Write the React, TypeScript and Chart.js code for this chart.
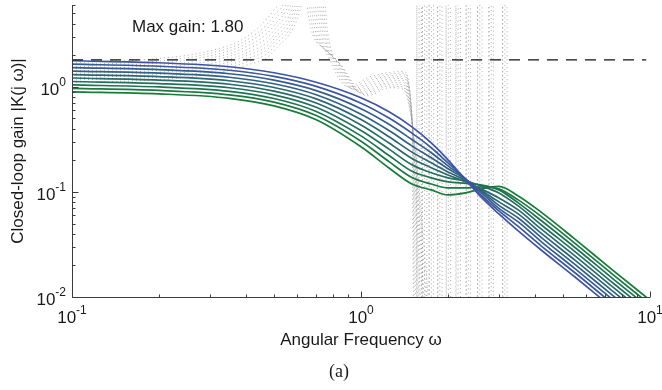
import React, { useEffect, useRef } from "react";
import { Chart, registerables } from "chart.js";

Chart.register(...registerables);

// ---------- data ----------
const omega = [0.1, 0.2, 0.35, 0.5, 0.7, 1.0, 1.25, 1.5, 1.75, 2.0, 2.3, 2.6, 3.0, 3.5, 4.2, 5.5, 7.5, 10];

const gain1 = [1.77, 1.693, 1.551, 1.359, 1.104, 0.786, 0.578, 0.416, 0.293, 0.202, 0.13, 0.0896, 0.0617, 0.0425, 0.028, 0.0155, 0.00769, 0.00407];
const gain2 = [1.641, 1.569, 1.436, 1.254, 1.008, 0.698, 0.504, 0.362, 0.263, 0.189, 0.133, 0.0936, 0.0659, 0.0469, 0.0307, 0.017, 0.00843, 0.00446];
const gain3 = [1.521, 1.455, 1.33, 1.157, 0.92, 0.619, 0.44, 0.315, 0.236, 0.177, 0.133, 0.0989, 0.0697, 0.0518, 0.0337, 0.0186, 0.00925, 0.00489];
const gain4 = [1.41, 1.349, 1.232, 1.068, 0.84, 0.549, 0.384, 0.274, 0.211, 0.166, 0.1315, 0.1022, 0.0744, 0.0565, 0.0369, 0.0204, 0.01014, 0.00537];
const gain5 = [1.307, 1.25, 1.141, 0.985, 0.767, 0.488, 0.335, 0.239, 0.189, 0.155, 0.1287, 0.1045, 0.0803, 0.0617, 0.0405, 0.0224, 0.01112, 0.00588];
const gain6 = [1.212, 1.159, 1.057, 0.909, 0.7, 0.433, 0.292, 0.208, 0.17, 0.145, 0.1246, 0.1068, 0.0877, 0.0674, 0.0444, 0.0246, 0.01219, 0.00645];
const gain7 = [1.123, 1.074, 0.979, 0.839, 0.639, 0.384, 0.255, 0.181, 0.152, 0.1359, 0.1273, 0.114, 0.0978, 0.0736, 0.0487, 0.027, 0.01337, 0.00708];
const gain8 = [1.041, 0.996, 0.906, 0.774, 0.583, 0.341, 0.222, 0.157, 0.136, 0.1246, 0.1205, 0.1166, 0.1045, 0.0786, 0.0534, 0.0296, 0.01466, 0.00776];
const gain9 = [0.965, 0.923, 0.839, 0.714, 0.532, 0.303, 0.194, 0.137, 0.119, 0.1091, 0.1091, 0.1116, 0.1068, 0.0839, 0.0585, 0.0324, 0.01607, 0.00851];
const gain10 = [0.895, 0.856, 0.777, 0.659, 0.486, 0.269, 0.169, 0.119, 0.1045, 0.0936, 0.0978, 0.1068, 0.1128, 0.0916, 0.0642, 0.0355, 0.01762, 0.00933];
const closedLoopGains = [gain1, gain2, gain3, gain4, gain5, gain6, gain7, gain8, gain9, gain10];

// dotted grey curves (frequency / gain pairs); values above 6 or below 0.01 run off the axes
const greyW1 = [0.1, 0.2, 0.3, 0.4, 0.5, 0.552, 0.6, 0.66, 0.75, 0.9, 1.08, 1.4, 1.5, 1.53, 1.558, 1.56, 1.565, 1.588, 1.59, 1.616, 1.618];
const greyG1 = [1.7, 1.86, 2.2, 2.97, 5.4, 9, 60, 4.5, 2.2, 1.0, 1.25, 1.4, 0.55, 0.001, 0.001, 60, 0.001, 0.001, 60, 60, 0.001];
const greyW2 = [0.1, 0.2, 0.3, 0.4, 0.5, 0.562, 0.611, 0.672, 0.764, 0.917, 1.1, 1.4, 1.5, 1.55, 1.628, 1.63, 1.635, 1.659, 1.661, 1.689, 1.69];
const greyG2 = [1.62, 1.76, 2.08, 2.76, 4.76, 9, 60, 4.35, 2.12, 0.98, 1.22, 1.35, 0.54, 0.001, 0.001, 60, 0.001, 0.001, 60, 60, 0.001];
const greyW3 = [0.1, 0.2, 0.3, 0.4, 0.5, 0.572, 0.622, 0.684, 0.778, 0.933, 1.12, 1.4, 1.5, 1.58, 1.718, 1.72, 1.725, 1.751, 1.753, 1.782, 1.784];
const greyG3 = [1.55, 1.68, 1.97, 2.58, 4.27, 9, 60, 4.2, 2.04, 0.96, 1.19, 1.3, 0.53, 0.001, 0.001, 60, 0.001, 0.001, 60, 60, 0.001];
const greyW4 = [0.1, 0.2, 0.3, 0.4, 0.5, 0.582, 0.633, 0.696, 0.791, 0.95, 1.139, 1.4, 1.5, 1.62, 1.838, 1.84, 1.846, 1.873, 1.875, 1.906, 1.908];
const greyG4 = [1.48, 1.6, 1.86, 2.4, 3.84, 9, 60, 4.05, 1.96, 0.94, 1.16, 1.25, 0.52, 0.001, 0.001, 60, 0.001, 0.001, 60, 60, 0.001];
const greyW5 = [0.1, 0.2, 0.3, 0.4, 0.5, 0.592, 0.644, 0.708, 0.805, 0.966, 1.159, 1.4, 1.5, 1.66, 1.968, 1.97, 1.976, 2.005, 2.007, 2.041, 2.043];
const greyG5 = [1.41, 1.52, 1.76, 2.24, 3.47, 9, 60, 3.9, 1.88, 0.92, 1.13, 1.2, 0.51, 0.001, 0.001, 60, 0.001, 0.001, 60, 60, 0.001];
const greyW6 = [0.1, 0.2, 0.3, 0.4, 0.5, 0.603, 0.655, 0.721, 0.819, 0.983, 1.179, 1.4, 1.5, 1.7, 2.128, 2.13, 2.136, 2.168, 2.17, 2.207, 2.209];
const greyG6 = [1.34, 1.44, 1.66, 2.09, 3.13, 9, 60, 3.75, 1.8, 0.9, 1.1, 1.15, 0.5, 0.001, 0.001, 60, 0.001, 0.001, 60, 60, 0.001];
const greyW7 = [0.1, 0.2, 0.3, 0.4, 0.5, 0.613, 0.666, 0.733, 0.833, 0.999, 1.199, 1.4, 1.5, 1.75, 2.308, 2.31, 2.317, 2.352, 2.354, 2.393, 2.395];
const greyG7 = [1.28, 1.37, 1.57, 1.96, 2.86, 9, 60, 3.6, 1.72, 0.88, 1.07, 1.1, 0.49, 0.001, 0.001, 60, 0.001, 0.001, 60, 60, 0.001];
const greyW8 = [0.1, 0.2, 0.3, 0.4, 0.5, 0.623, 0.677, 0.745, 0.846, 1.016, 1.219, 1.4, 1.5, 1.8, 2.527, 2.53, 2.538, 2.576, 2.578, 2.621, 2.623];
const greyG8 = [1.22, 1.31, 1.48, 1.83, 2.63, 9, 60, 3.45, 1.64, 0.86, 1.04, 1.05, 0.48, 0.001, 0.001, 60, 0.001, 0.001, 60, 60, 0.001];
const greyW9 = [0.1, 0.2, 0.3, 0.4, 0.5, 0.633, 0.688, 0.757, 0.86, 1.032, 1.238, 1.4, 1.5, 1.86, 2.767, 2.77, 2.778, 2.82, 2.823, 2.87, 2.872];
const greyG9 = [1.16, 1.24, 1.4, 1.71, 2.41, 9, 60, 3.3, 1.56, 0.84, 1.01, 1.0, 0.47, 0.001, 0.001, 60, 0.001, 0.001, 60, 60, 0.001];
const greyW10 = [0.1, 0.2, 0.3, 0.4, 0.5, 0.643, 0.699, 0.769, 0.874, 1.049, 1.258, 1.4, 1.5, 1.92, 3.087, 3.09, 3.099, 3.146, 3.149, 3.201, 3.204];
const greyG10 = [1.1, 1.17, 1.32, 1.6, 2.2, 9, 60, 3.15, 1.48, 0.82, 0.98, 0.95, 0.46, 0.001, 0.001, 60, 0.001, 0.001, 60, 60, 0.001];
const greyW = [greyW1, greyW2, greyW3, greyW4, greyW5, greyW6, greyW7, greyW8, greyW9, greyW10];
const greyG = [greyG1, greyG2, greyG3, greyG4, greyG5, greyG6, greyG7, greyG8, greyG9, greyG10];

const maxGain = 1.8;
const maxGainLabel = "Max gain: 1.80";
const xRange = [0.1, 10];
const yRange = [0.01, 6];
const xDecades = [0.1, 1, 10];
const yDecades = [0.01, 0.1, 1];
const xTickExp = ["-1", "0", "1"];
const yTickExp = ["-2", "-1", "0"];
const xTitle = "Angular Frequency \u03c9";
const yTitle = "Closed-loop gain |K(j \u03c9)|";
const caption = "(a)";

// ---------- styling helpers ----------
const blue = [62, 84, 168];
const green = [24, 124, 56];
function lineColor(i: number, n: number) {
  const t = n > 1 ? i / (n - 1) : 0;
  const c = blue.map((b, k) => Math.round(b + (green[k] - b) * t));
  return `rgb(${c[0]},${c[1]},${c[2]})`;
}

const SANS = "'Liberation Sans', Arial, Helvetica, sans-serif";
const SERIF = "'Liberation Serif', 'Times New Roman', serif";

const axesPlugin = {
  id: "matlabAxes",
  afterDraw(chart: any) {
    const { ctx, chartArea } = chart;
    const xs = chart.scales.x;
    const ys = chart.scales.y;
    const L = Math.round(chartArea.left) + 0.5;
    const B = Math.round(chartArea.bottom) + 0.5;
    const T = chartArea.top;
    const R = chartArea.right;
    ctx.save();
    ctx.strokeStyle = "#3a3a3a";
    ctx.lineWidth = 1;
    ctx.setLineDash([]);
    ctx.beginPath();
    ctx.moveTo(L, T);
    ctx.lineTo(L, B);
    ctx.lineTo(R, B);
    ctx.stroke();

    ctx.beginPath();
    for (let d = 0; d < xDecades.length; d++) {
      for (let m = 1; m <= 9; m++) {
        const v = xDecades[d] * m;
        if (v > xRange[1] * 1.0001) break;
        const px = Math.round(xs.getPixelForValue(v)) + 0.5;
        const len = m === 1 ? 6 : 3;
        ctx.moveTo(px, B);
        ctx.lineTo(px, B - len);
      }
    }
    for (let d = 0; d < yDecades.length; d++) {
      for (let m = 1; m <= 9; m++) {
        const v = yDecades[d] * m;
        if (v > yRange[1] * 1.0001) break;
        const py = Math.round(ys.getPixelForValue(v)) + 0.5;
        const len = m === 1 ? 6 : 3;
        ctx.moveTo(L, py);
        ctx.lineTo(L + len, py);
      }
    }
    ctx.stroke();

    const baseFont = `17px ${SANS}`;
    const expFont = `12px ${SANS}`;
    ctx.fillStyle = "#1a1a1a";
    ctx.textBaseline = "alphabetic";
    ctx.textAlign = "left";

    xDecades.forEach((v, i) => {
      const px = xs.getPixelForValue(v);
      ctx.font = baseFont;
      const bw = ctx.measureText("10").width;
      ctx.font = expFont;
      const ew = ctx.measureText(xTickExp[i]).width;
      const x0 = px - (bw + ew) / 2;
      ctx.font = baseFont;
      ctx.fillText("10", x0, 323);
      ctx.font = expFont;
      ctx.fillText(xTickExp[i], x0 + bw, 314);
    });
    yDecades.forEach((v, i) => {
      const py = ys.getPixelForValue(v);
      ctx.font = baseFont;
      const bw = ctx.measureText("10").width;
      ctx.font = expFont;
      const ew = ctx.measureText(yTickExp[i]).width;
      const x0 = chartArea.left - 6 - (bw + ew);
      ctx.font = baseFont;
      ctx.fillText("10", x0, py + 8);
      ctx.font = expFont;
      ctx.fillText(yTickExp[i], x0 + bw, py - 1);
    });

    ctx.font = `17px ${SANS}`;
    ctx.textAlign = "center";
    ctx.fillText(xTitle, (chartArea.left + chartArea.right) / 2, 345);
    ctx.save();
    ctx.translate(23, 151);
    ctx.rotate(-Math.PI / 2);
    ctx.fillText(yTitle, 0, 0);
    ctx.restore();

    ctx.textAlign = "left";
    ctx.font = `17px ${SANS}`;
    ctx.fillText(maxGainLabel, 132, 32);

    ctx.font = `18px ${SERIF}`;
    ctx.textAlign = "center";
    ctx.fillText(caption, 339, 377);
    ctx.restore();
  },
};

export default function App() {
  const ref = useRef<HTMLCanvasElement | null>(null);
  useEffect(() => {
    document.body.style.margin = "0";
    const canvas = ref.current;
    if (!canvas) return;

    const datasets: any[] = [];
    datasets.push({
      data: [
        { x: xRange[0], y: maxGain },
        { x: 9.7, y: maxGain },
      ],
      borderColor: "#111",
      borderWidth: 1.2,
      borderDash: [11, 8],
      pointRadius: 0,
      order: 0,
    });
    closedLoopGains.forEach((g, i) => {
      datasets.push({
        data: omega.map((w, j) => ({ x: w, y: g[j] })),
        borderColor: lineColor(i, closedLoopGains.length),
        borderWidth: 1.7,
        pointRadius: 0,
        cubicInterpolationMode: "monotone",
        order: 1,
      });
    });
    greyW.forEach((ws, i) => {
      datasets.push({
        data: ws.map((w, j) => ({ x: w, y: greyG[i][j] })),
        borderColor: "rgba(135,135,135,0.7)",
        borderWidth: 1,
        borderDash: [1, 3],
        pointRadius: 0,
        cubicInterpolationMode: "monotone",
        order: 2,
      });
    });

    const chart = new Chart(canvas, {
      type: "line",
      data: { datasets },
      options: {
        animation: false,
        responsive: false,
        devicePixelRatio: 1,
        layout: { padding: { left: 72, right: 12, top: 5, bottom: 93 } },
        plugins: { legend: { display: false }, tooltip: { enabled: false } },
        events: [],
        scales: {
          x: { type: "logarithmic", min: xRange[0], max: xRange[1], display: false },
          y: { type: "logarithmic", min: yRange[0], max: yRange[1], display: false },
        },
      },
      plugins: [axesPlugin],
    });
    return () => chart.destroy();
  }, []);

  return (
    <div style={{ width: 662, height: 390, background: "#fff" }}>
      <canvas ref={ref} width={662} height={390} style={{ display: "block" }} />
    </div>
  );
}
